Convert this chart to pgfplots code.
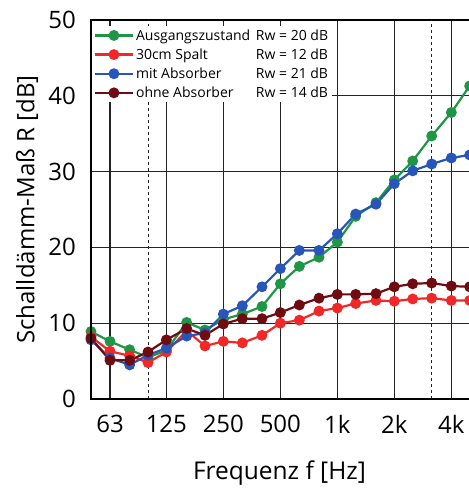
\documentclass[border=0pt]{standalone}
\usepackage{fontspec}
\setmainfont{Open Sans}
\usepackage{pgfplots}
\pgfplotsset{compat=1.18}
\definecolor{cGreen}{RGB}{30,150,70}
\definecolor{cRed}{RGB}{240,40,40}
\definecolor{cBlue}{RGB}{40,85,185}
\definecolor{cMaroon}{RGB}{110,12,18}
\definecolor{cGrid}{RGB}{35,35,35}

\pgfplotstableread{
f     aus   spalt mit  ohne
50    8.9   8.2   7.8  8.0
63    7.6   6.3   5.4  5.1
80    6.5   5.7   4.5  5.1
100   5.5   4.8   5.8  6.2
125   6.4   6.2   6.7  7.8
160   10.1  9.0   8.3  9.3
200   9.1   7.0   8.7  8.4
250   10.5  7.6   11.2 9.9
315   11.2  7.4   12.3 10.6
400   12.2  8.4   14.8 10.6
500   15.2  10.0  17.2 11.4
630   17.5  10.4  19.6 12.4
800   18.7  11.6  19.6 13.3
1000  20.7  12.0  21.8 13.8
1250  24.1  12.6  24.4 13.8
1600  25.9  13.0  25.7 13.9
2000  28.9  12.9  28.4 14.8
2500  31.4  13.2  30.1 15.2
3150  34.7  13.3  31.0 15.3
4000  37.8  13.0  31.8 14.9
5000  41.3  13.0  32.2 14.8
}\daten

\begin{document}
\begin{tikzpicture}
  \useasboundingbox (0,0) rectangle (468pt,489pt);
  \begin{axis}[
      at={(91pt,90pt)}, anchor=south west,
      scale only axis,
      width=383pt, height=379pt,
      xmode=log, log basis x=2,
      xmin=50, xmax=5270,
      ymin=0, ymax=50,
      axis line style={line width=1.2pt, black},
      xtick={63,125,250,500,1000,2000,4000},
      xticklabels={63,125,250,500,1k,2k,4k},
      ytick={0,10,...,50},
      extra x ticks={100,3150},
      extra x tick labels={},
      extra x tick style={grid style={dashed, cGrid, line width=1pt}},
      major tick length=0pt,
      grid=major,
      grid style={cGrid, line width=1.3pt},
      tick label style={font=\fontsize{24}{28}\selectfont},
      /pgf/number format/assume math mode=true,
      yticklabel style={anchor=east, inner sep=0pt, xshift=-15pt},
      xticklabel style={yshift=-13pt},
      xlabel={Frequenz f [Hz]},
      ylabel={Schalldämm-Maß R [dB]},
      every axis x label/.style={at={(axis description cs:0.492,-0.195)}, anchor=center,
        font=\fontsize{24.5}{28}\selectfont},
      every axis y label/.style={at={(axis description cs:-0.167,0.5)}, anchor=center, rotate=90,
        font=\fontsize{24}{28}\selectfont},
      legend style={at={(axis description cs:0.003,0.985)}, anchor=north west, draw=none, fill=white,
        font=\fontsize{14}{16}\selectfont, row sep=3pt, inner sep=1.5pt},
      legend cell align=left,
      legend image code/.code={\draw[mark repeat=2,mark phase=2] plot coordinates {(0pt,0pt)(19pt,0pt)(38pt,0pt)};},
      every axis plot/.append style={line width=2.2pt, mark=*, mark size=4.3pt,
        mark options={draw=black, line width=0.8pt}},
    ]
    \addplot[cGreen, mark options={fill=cGreen}] table[x=f, y=aus] {\daten};
    \addlegendentry{\makebox[192pt]{Ausgangszustand\hfill Rw = 20 dB}}
    \addplot[cRed, mark options={fill=cRed}] table[x=f, y=spalt] {\daten};
    \addlegendentry{\makebox[192pt]{30cm Spalt\hfill Rw = 12 dB}}
    \addplot[cBlue, mark options={fill=cBlue}] table[x=f, y=mit] {\daten};
    \addlegendentry{\makebox[192pt]{mit Absorber\hfill Rw = 21 dB}}
    \addplot[cMaroon, mark options={fill=cMaroon}] table[x=f, y=ohne] {\daten};
    \addlegendentry{\makebox[192pt]{ohne Absorber\hfill Rw = 14 dB}}
  \end{axis}
  % thicker left and bottom axis lines, as in the original figure
  \draw[black, line width=2.6pt] (91pt,469pt) -- (91pt,90pt) -- (474pt,90pt);
\end{tikzpicture}
\end{document}
